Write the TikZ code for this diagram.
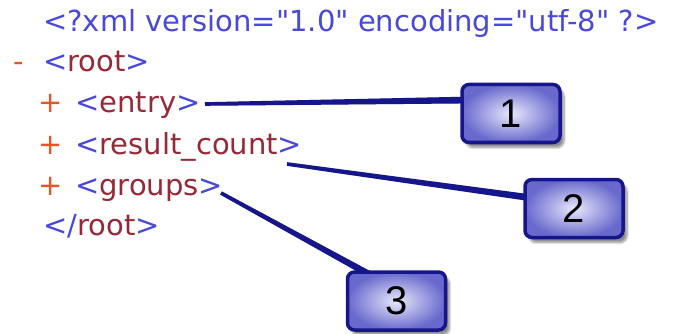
\documentclass[tikz,border=0pt]{standalone}
\usepackage{fontspec}
\setmainfont{DejaVu Sans}[Ligatures=TeXOff]
\newfontfamily\numfont{Liberation Sans}
\usetikzlibrary{calc,shadows.blur}
\definecolor{tagblue}{RGB}{72,72,218}
\definecolor{tagred}{RGB}{150,40,55}
\definecolor{signred}{RGB}{230,85,40}
\definecolor{navy}{RGB}{22,22,140}
\definecolor{boxlight}{RGB}{232,232,252}
\definecolor{boxdark}{RGB}{105,105,205}
\newcommand\tg[1]{\textcolor{tagblue}{<}\textcolor{tagred}{#1}\textcolor{tagblue}{>}}
\newcommand\xconn[3][navy]{%
  \fill[#1] ($(#2)!1.8pt!90:(#3)$) -- ($(#3)!3.4pt!-90:(#2)$) -- ($(#3)!3.4pt!90:(#2)$) -- ($(#2)!1.8pt!-90:(#3)$) -- cycle;}
\begin{document}
\begin{tikzpicture}[x=1pt,y=-1pt,
  txt/.style={anchor=base west, inner sep=0pt, font=\fontsize{29}{29}\selectfont},
  numbox/.style={draw=navy, line width=3.5pt, rounded corners=7pt,
    minimum width=98pt, minimum height=58pt, inner sep=0pt,
    inner color=boxlight, outer color=boxdark, text=black,
    font=\numfont\fontsize{40}{40}\selectfont,
    blur shadow={shadow xshift=4pt, shadow yshift=-5pt, shadow blur steps=8, shadow opacity=45}},
  lineshadow/.style={black!60, opacity=0.18},
]
\useasboundingbox (0,0) rectangle (677,334);
% text
\node[txt, text=tagblue] (xml) at (43,32) {<?xml version="1.0" encoding="utf-8" ?>};
\node[txt, text=signred] (minus) at (13,72) {-};
\node[txt] (root) at (43,72) {\tg{root}};
\node[txt, text=signred] (p1) at (38,113) {+};
\node[txt] (entry) at (75,113) {\tg{entry}};
\node[txt, text=signred] (p2) at (38,154) {+};
\node[txt] (count) at (75,154) {\tg{result\_count}};
\node[txt, text=signred] (p3) at (38,195) {+};
\node[txt] (groups) at (75,195) {\tg{groups}};
\node[txt] (endroot) at (43,235) {\textcolor{tagblue}{</}\textcolor{tagred}{root}\textcolor{tagblue}{>}};
% box positions
\coordinate (c1) at (511,113.5);
\coordinate (c2) at (574,208.5);
\coordinate (c3) at (396.5,301);
% connector ends
\coordinate (s1) at (205,104);
\coordinate (s2) at (287,164);
\coordinate (s3) at (221,193);
\coordinate (e1) at (470,100);
\coordinate (e2) at (532,198);
\coordinate (e3) at (374,277);
% connector shadows
\begin{scope}[shift={(2,6)}]
  \xconn[lineshadow]{s1}{e1}
  \xconn[lineshadow]{s2}{e2}
  \xconn[lineshadow]{s3}{e3}
\end{scope}
\begin{scope}[shift={(3,8)}]
  \xconn[lineshadow]{s1}{e1}
  \xconn[lineshadow]{s2}{e2}
  \xconn[lineshadow]{s3}{e3}
\end{scope}
% connectors
\xconn{s1}{e1}
\xconn{s2}{e2}
\xconn{s3}{e3}
% boxes
\node[numbox] (b1) at (c1) {1};
\node[numbox] (b2) at (c2) {2};
\node[numbox] (b3) at (c3) {3};
\end{tikzpicture}
\end{document}
